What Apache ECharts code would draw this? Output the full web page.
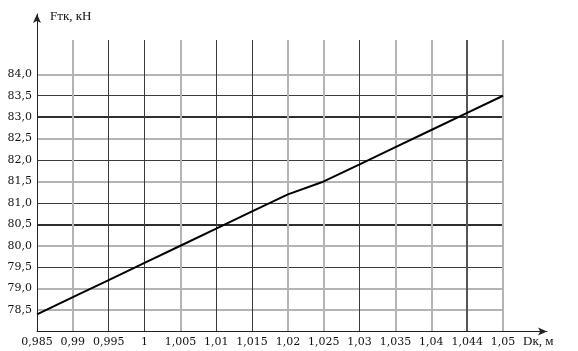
<!DOCTYPE html>
<html>
<head>
<meta charset="utf-8">
<script src="https://cdn.jsdelivr.net/npm/echarts@6/dist/echarts.min.js"></script>
<style>
  html, body { margin: 0; padding: 0; background: #ffffff; }
  #chart { width: 578px; height: 351px; }
</style>
</head>
<body>
<div id="chart"></div>
<script>
// ---- data ----
const xLabels = ['0,985', '0,99', '0,995', '1', '1,005', '1,01', '1,015', '1,02', '1,025', '1,03', '1,035', '1,04', '1,044', '1,05'];
const fValues = [78.4, 78.8, 79.2, 79.6, 80.0, 80.4, 80.8, 81.2, 81.5, 81.9, 82.3, 82.7, 83.1, 83.5];
const yMin = 78, yMax = 84.8, yStep = 0.5;
const yLabelFrom = 78.5, yLabelTo = 84.0;
const xName = 'Dк, м';
const yName = 'Fтк, кН';

// ---- styles ----
const T = 'rgba(0,0,0,0)';
const D = '#3a3a3a';   // thin dark grid
const G = '#b4b4b4';   // light wide grid
const K = '#2e2e2e';   // thick dark grid
const KV = '#555555';
const serif = 'Liberation Serif';
const labelFont = 'DejaVu Serif';

const xThin = [T, T, D, D, T, D, D, T, T, D, T, T, T, T];
const xWide = [T, G, T, T, G, T, T, G, G, T, G, G, KV, G];
const yThin = [T, T, T, D, T, T, D, T, D, T, T, D, T, T, T, T];
const yWide = [T, G, G, T, G, K, T, G, T, G, K, T, G, T, T, T];

const chart = echarts.init(document.getElementById('chart'), null, { renderer: 'canvas' });

const gridB = { left: 37, right: 75, top: 40, bottom: 19.5 };
const xBase = { gridIndex: 1, type: 'value', min: 0, max: xLabels.length - 1, interval: 1,
  axisLine: { show: false }, axisTick: { show: false }, axisLabel: { show: false } };
const yBase = { gridIndex: 1, type: 'value', min: yMin, max: yMax, interval: yStep,
  axisLine: { show: false }, axisTick: { show: false }, axisLabel: { show: false } };

chart.setOption({
  animation: false,
  backgroundColor: '#ffffff',
  grid: [
    { left: 37, right: 31, top: 14, bottom: 19.5 },
    gridB
  ],
  xAxis: [
    { gridIndex: 0, type: 'value', min: 0, max: 1,
      axisLine: { show: true, lineStyle: { color: '#222', width: 1 }, symbol: ['none', 'arrow'], symbolSize: [6, 9] },
      axisTick: { show: false }, axisLabel: { show: false }, splitLine: { show: false } },
    Object.assign({}, xBase, {
      splitLine: { show: true, lineStyle: { color: xThin, width: 1 } },
      axisLabel: { show: true, margin: 5, color: '#111', fontFamily: labelFont, fontSize: 11,
        formatter: v => (Number.isInteger(v) && xLabels[v] !== undefined) ? xLabels[v] : '' },
      name: xName, nameLocation: 'end', nameGap: 20,
      nameTextStyle: { color: '#111', fontFamily: serif, fontSize: 13, align: 'left', verticalAlign: 'top', padding: [4, 0, 0, 0] }
    }),
    Object.assign({}, xBase, { splitLine: { show: true, lineStyle: { color: xWide, width: 2 } } })
  ],
  yAxis: [
    { gridIndex: 0, type: 'value', min: 0, max: 1,
      axisLine: { show: true, lineStyle: { color: '#222', width: 1 }, symbol: ['none', 'arrow'], symbolSize: [6, 9] },
      axisTick: { show: false }, axisLabel: { show: false }, splitLine: { show: false },
      name: yName, nameLocation: 'end', nameGap: -3,
      nameTextStyle: { color: '#111', fontFamily: serif, fontSize: 13, align: 'left', verticalAlign: 'middle', padding: [0, 0, 0, 13] } },
    Object.assign({}, yBase, {
      splitLine: { show: true, lineStyle: { color: yThin, width: 1 } },
      axisLabel: { show: true, margin: 5, color: '#111', fontFamily: labelFont, fontSize: 11,
        formatter: v => (v >= yLabelFrom - 1e-9 && v <= yLabelTo + 1e-9) ? v.toFixed(1).replace('.', ',') : '' }
    }),
    Object.assign({}, yBase, { splitLine: { show: true, lineStyle: { color: yWide, width: 2 } } })
  ],
  series: [{
    type: 'line',
    xAxisIndex: 1, yAxisIndex: 1,
    data: fValues.map((v, i) => [i, v]),
    showSymbol: false,
    symbol: 'none',
    lineStyle: { color: '#000', width: 2 },
    z: 10
  }]
});
</script>
</body>
</html>
